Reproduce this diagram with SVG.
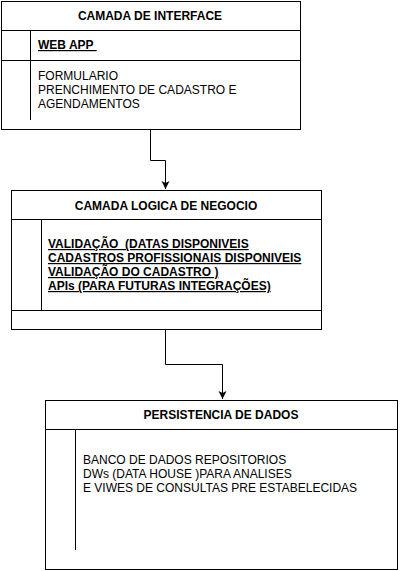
<svg xmlns="http://www.w3.org/2000/svg" width="401" height="571" viewBox="0 0 401 571">
<style>
.box{fill:#fff;stroke:#000;stroke-width:1}
.ln{fill:none;stroke:#000;stroke-width:1}
text{font-family:"Liberation Sans",Arial,sans-serif;font-size:12px;fill:#000;white-space:pre}
.t{font-weight:bold;text-anchor:middle}
.b{font-weight:bold;text-decoration:underline}
</style>
<defs>
<marker id="ah" markerWidth="9" markerHeight="9" viewBox="0 0 9 9" refX="8" refY="4.5" orient="auto" markerUnits="userSpaceOnUse">
<path d="M0,0.5 L8,4.5 L0,8.5 L2,4.5 Z" fill="#000"/>
</marker>
</defs>
<rect width="401" height="571" fill="#fff"/>
<g id="connectors">
<path class="ln" d="M150.5,129 V160.5 H165.5 V189" marker-end="url(#ah)"/>
<path class="ln" d="M165.5,330 V364.5 H222.5 V399" marker-end="url(#ah)"/>
</g>
<g id="camada-interface">
<rect class="box" x="1.5" y="1.5" width="299" height="128"/>
<line class="ln" x1="1.5" y1="30.5" x2="300.5" y2="30.5"/>
<line class="ln" x1="1.5" y1="60.5" x2="300.5" y2="60.5"/>
<line class="ln" x1="30.5" y1="30.5" x2="30.5" y2="120"/>
<text class="t" x="150" y="20">CAMADA DE INTERFACE</text>
<text class="b" x="38" y="49" xml:space="preserve">WEB APP </text>
<text x="38" y="80">FORMULARIO</text>
<text x="38" y="94">PRENCHIMENTO DE CADASTRO E</text>
<text x="38" y="108">AGENDAMENTOS</text>
</g>
<g id="camada-logica">
<rect class="box" x="11.5" y="190.5" width="310" height="139"/>
<line class="ln" x1="11.5" y1="219.5" x2="321.5" y2="219.5"/>
<line class="ln" x1="11.5" y1="310.5" x2="321.5" y2="310.5"/>
<line class="ln" x1="41.5" y1="219.5" x2="41.5" y2="310.5"/>
<text class="t" x="166" y="210">CAMADA LOGICA DE NEGOCIO</text>
<text class="b" x="48" y="248" xml:space="preserve">VALIDAÇÃO  (DATAS DISPONIVEIS</text>
<text class="b" x="48" y="262">CADASTROS PROFISSIONAIS DISPONIVEIS</text>
<text class="b" x="48" y="276">VALIDAÇÃO DO CADASTRO )</text>
<text class="b" x="48" y="290">APIs (PARA FUTURAS INTEGRAÇÕES)</text>
</g>
<g id="persistencia">
<rect class="box" x="45.5" y="400.5" width="352" height="169"/>
<line class="ln" x1="45.5" y1="429.5" x2="397.5" y2="429.5"/>
<line class="ln" x1="75.5" y1="429.5" x2="75.5" y2="550"/>
<text class="t" x="221" y="419">PERSISTENCIA DE DADOS</text>
<text x="83" y="464">BANCO DE DADOS REPOSITORIOS</text>
<text x="83" y="478">DWs (DATA HOUSE )PARA ANALISES</text>
<text x="83" y="492">E VIWES DE CONSULTAS PRE ESTABELECIDAS</text>
</g>
</svg>
